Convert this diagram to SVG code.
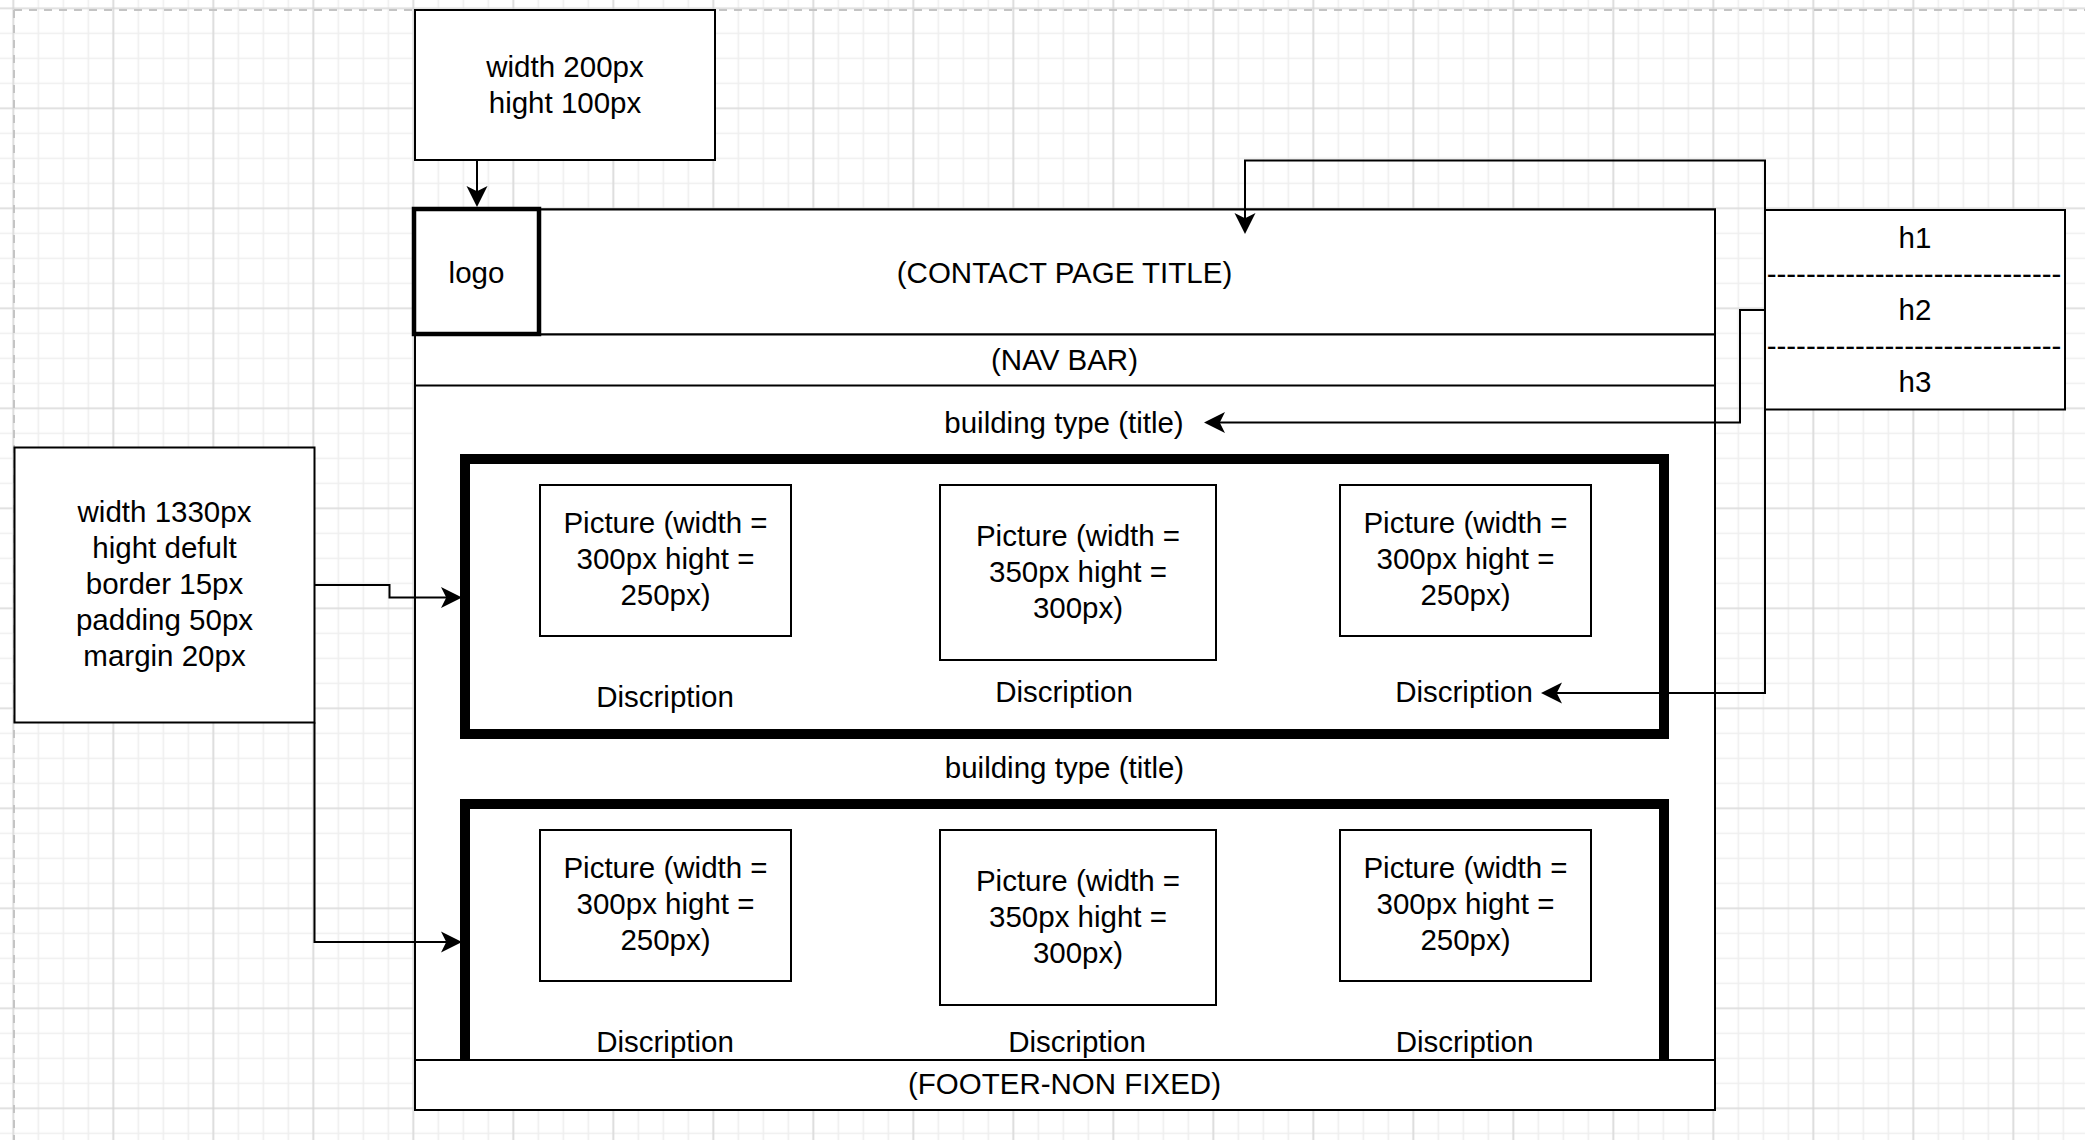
<svg xmlns="http://www.w3.org/2000/svg" width="2085" height="1140" viewBox="0 0 2085 1140">
<defs>
<pattern id="gMinor" patternUnits="userSpaceOnUse" x="0.83" y="-4.17" width="25" height="25">
<path d="M12.5 0 V25 M0 12.5 H25" stroke="#efefef" stroke-width="1.6" fill="none"/>
</pattern>
<pattern id="gMajor" patternUnits="userSpaceOnUse" x="-36.67" y="-41.67" width="100" height="100">
<path d="M50 0 V100 M0 50 H100" stroke="#d2d2d2" stroke-width="1.2" fill="none"/>
</pattern>
<marker id="arr" markerUnits="userSpaceOnUse" markerWidth="24" markerHeight="22" viewBox="-12 -11 24 22" refX="0" refY="0" orient="auto" overflow="visible">
<path d="M10,0 L-11,-10.5 L-5.75,0 L-11,10.5 Z" fill="#000"/>
</marker>
<style>
.box{fill:#fff;stroke:#000;stroke-width:2}
.thick{fill:#fff;stroke:#000;stroke-width:10}
.logo{fill:#fff;stroke:#000;stroke-width:4.5}
.t{font-family:"Liberation Sans",Arial,Helvetica,sans-serif;font-size:29.5px;fill:#000;text-anchor:middle}
.edge{fill:none;stroke:#000;stroke-width:2;marker-end:url(#arr)}
.page{fill:none;stroke:#c4c4c4;stroke-width:2;stroke-dasharray:8 7}
</style>
</defs>
<g id="background">
<rect x="0" y="0" width="2085" height="1140" fill="#fff"/>
<rect x="0" y="0" width="2085" height="1140" fill="url(#gMinor)"/>
<rect x="0" y="0" width="2085" height="1140" fill="url(#gMajor)"/>
<path class="page" d="M14 10 H2085 M14 10 V1140"/>
</g>
<g id="page-container">
<rect class="box" x="415" y="209.5" width="1300" height="900"/>
</g>
<g id="header">
<rect class="box" x="415" y="209.5" width="1300" height="125"/>
<text class="t" x="1064.5" y="283">(CONTACT PAGE TITLE)</text>
</g>
<g id="nav-bar">
<rect class="box" x="415" y="334.5" width="1300" height="51"/>
<text class="t" x="1064.5" y="370">(NAV BAR)</text>
</g>
<g id="title-1">
<text class="t" x="1064" y="433">building type (title)</text>
</g>
<g id="section-1">
<rect class="thick" x="465" y="459" width="1199" height="275"/>
</g>
<g id="picture-1-1">
<rect class="box" x="540" y="485" width="251" height="151"/>
<text class="t" x="665.5" y="533.3">Picture (width =<tspan x="665.5" dy="36">300px hight =</tspan><tspan x="665.5" dy="36">250px)</tspan></text>
</g>
<g id="picture-1-2">
<rect class="box" x="940" y="485" width="276" height="175"/>
<text class="t" x="1078" y="546">Picture (width =<tspan x="1078" dy="36">350px hight =</tspan><tspan x="1078" dy="36">300px)</tspan></text>
</g>
<g id="picture-1-3">
<rect class="box" x="1340" y="485" width="251" height="151"/>
<text class="t" x="1465.5" y="533.3">Picture (width =<tspan x="1465.5" dy="36">300px hight =</tspan><tspan x="1465.5" dy="36">250px)</tspan></text>
</g>
<g id="description-1-1"><text class="t" x="665" y="707">Discription</text></g>
<g id="description-1-2"><text class="t" x="1064" y="702">Discription</text></g>
<g id="description-1-3"><text class="t" x="1464" y="702">Discription</text></g>
<g id="title-2">
<text class="t" x="1064.5" y="778">building type (title)</text>
</g>
<g id="section-2">
<rect class="thick" x="465" y="804" width="1199" height="275"/>
</g>
<g id="picture-2-1">
<rect class="box" x="540" y="830" width="251" height="151"/>
<text class="t" x="665.5" y="878.3">Picture (width =<tspan x="665.5" dy="36">300px hight =</tspan><tspan x="665.5" dy="36">250px)</tspan></text>
</g>
<g id="picture-2-2">
<rect class="box" x="940" y="830" width="276" height="175"/>
<text class="t" x="1078" y="891">Picture (width =<tspan x="1078" dy="36">350px hight =</tspan><tspan x="1078" dy="36">300px)</tspan></text>
</g>
<g id="picture-2-3">
<rect class="box" x="1340" y="830" width="251" height="151"/>
<text class="t" x="1465.5" y="878.3">Picture (width =<tspan x="1465.5" dy="36">300px hight =</tspan><tspan x="1465.5" dy="36">250px)</tspan></text>
</g>
<g id="footer">
<rect class="box" x="415" y="1060" width="1300" height="50"/>
<text class="t" x="1064.5" y="1093.5">(FOOTER-NON FIXED)</text>
</g>
<g id="description-2-1"><text class="t" x="665" y="1052">Discription</text></g>
<g id="description-2-2"><text class="t" x="1077" y="1052">Discription</text></g>
<g id="description-2-3"><text class="t" x="1464.5" y="1052">Discription</text></g>
<g id="logo">
<rect class="logo" x="414" y="209" width="125" height="125"/>
<text class="t" x="476.5" y="282.5">logo</text>
</g>
<g id="logo-size-note">
<rect class="box" x="415" y="10" width="300" height="150"/>
<text class="t" x="565" y="77">width 200px<tspan x="565" dy="36">hight 100px</tspan></text>
</g>
<g id="section-size-note">
<rect class="box" x="14.5" y="447.5" width="300" height="275"/>
<text class="t" x="164.5" y="522.3">width 1330px<tspan x="164.5" dy="36">hight defult</tspan><tspan x="164.5" dy="36">border 15px</tspan><tspan x="164.5" dy="36">padding 50px</tspan><tspan x="164.5" dy="36">margin 20px</tspan></text>
</g>
<g id="heading-levels">
<rect class="box" x="1765" y="210" width="300" height="199.5"/>
<text class="t" x="1915" y="247.5">h1</text>
<text class="t" x="1914" y="283.5">------------------------------</text>
<text class="t" x="1915" y="319.5">h2</text>
<text class="t" x="1914" y="355.5">------------------------------</text>
<text class="t" x="1915" y="391.5">h3</text>
</g>
<g id="connectors">
<path class="edge" d="M477 160 V197"/>
<path class="edge" d="M1765 210 V160.5 H1245 V224"/>
<path class="edge" d="M1765 310 H1740 V422.5 H1214"/>
<path class="edge" d="M1765 409.5 V693 H1551"/>
<path class="edge" d="M314.5 585 H389.5 V597.5 H452"/>
<path class="edge" d="M314.5 722.5 V942 H452"/>
</g>
</svg>
